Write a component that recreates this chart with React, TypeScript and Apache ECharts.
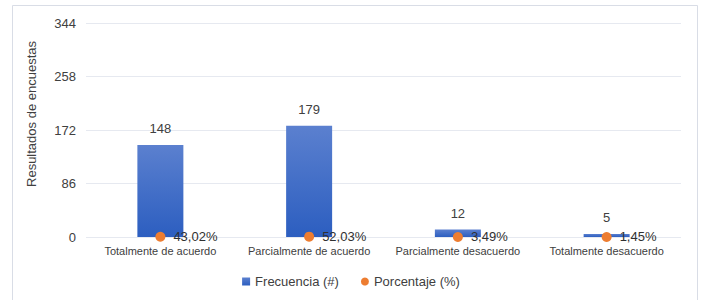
import React, { useEffect, useRef } from "react";
import * as echarts from "echarts";

const categories = [
  "Totalmente de acuerdo",
  "Parcialmente de acuerdo",
  "Parcialmente desacuerdo",
  "Totalmente desacuerdo",
];
const frecuencia = [148, 179, 12, 5];
const porcentaje = [43.02, 52.03, 3.49, 1.45];
const yTicks = [0, 86, 172, 258, 344];

export default function App() {
  const ref = useRef<HTMLDivElement>(null);
  useEffect(() => {
    if (!ref.current) return;
    const chart = echarts.init(ref.current, undefined, { renderer: "svg" });
    const font = "Liberation Sans, Arial, sans-serif";
    chart.setOption({
      animation: false,
      textStyle: { fontFamily: font },
      graphic: [
        {
          type: "rect",
          shape: { x: 12.5, y: 5.5, width: 685, height: 310 },
          style: { fill: "none", stroke: "#d9dde6", lineWidth: 1 },
          silent: true,
        },
      ],
      grid: { left: 86, right: 21, top: 23, bottom: 63, containLabel: false, outerBoundsMode: "none" },
      legend: {
        bottom: 7,
        left: "center",
        itemWidth: 8,
        itemHeight: 8,
        itemGap: 22,
        textStyle: { color: "#404040", fontSize: 13, fontFamily: font },
        data: [
          { name: "Frecuencia (#)", icon: "rect" },
          { name: "Porcentaje (%)", icon: "circle" },
        ],
      },
      xAxis: {
        type: "category",
        data: categories,
        axisLine: { show: false },
        axisTick: { show: false },
        axisLabel: { color: "#404040", fontSize: 11, margin: 8, interval: 0, fontFamily: font },
      },
      yAxis: {
        type: "value",
        min: yTicks[0],
        max: yTicks[yTicks.length - 1],
        interval: 86,
        name: "Resultados de encuestas",
        nameLocation: "middle",
        nameRotate: 90,
        nameGap: 48,
        nameTextStyle: { color: "#404040", fontSize: 13, fontFamily: font, padding: [0, 0, 0, 32] },
        axisLine: { show: false },
        axisTick: { show: false },
        axisLabel: { color: "#404040", fontSize: 13, margin: 10, fontFamily: font },
        splitLine: { lineStyle: { color: "#e6e9f0", width: 1 } },
      },
      series: [
        {
          name: "Frecuencia (#)",
          type: "bar",
          data: frecuencia,
          barWidth: 46,
          itemStyle: {
            color: new echarts.graphic.LinearGradient(0, 0, 0, 1, [
              { offset: 0, color: "#5b80cf" },
              { offset: 1, color: "#2c5ec0" },
            ]),
          },
          label: {
            show: true,
            position: "top",
            distance: 10,
            color: "#404040",
            fontSize: 13,
            fontFamily: font,
          },
        },
        {
          name: "Porcentaje (%)",
          type: "scatter",
          data: porcentaje.map((p) => p / 100),
          symbolSize: 10,
          itemStyle: { color: "#ed7d31", opacity: 1 },
          label: {
            show: true,
            position: "right",
            distance: 8,
            color: "#303030",
            fontSize: 13,
            fontFamily: font,
            formatter: (p: any) =>
              porcentaje[p.dataIndex].toFixed(2).replace(".", ",") + "%",
          },
          z: 5,
        },
      ],
    });
    return () => chart.dispose();
  }, []);
  return <div ref={ref} style={{ width: 702, height: 300, position: "absolute", left: 0, top: 0 }} />;
}
